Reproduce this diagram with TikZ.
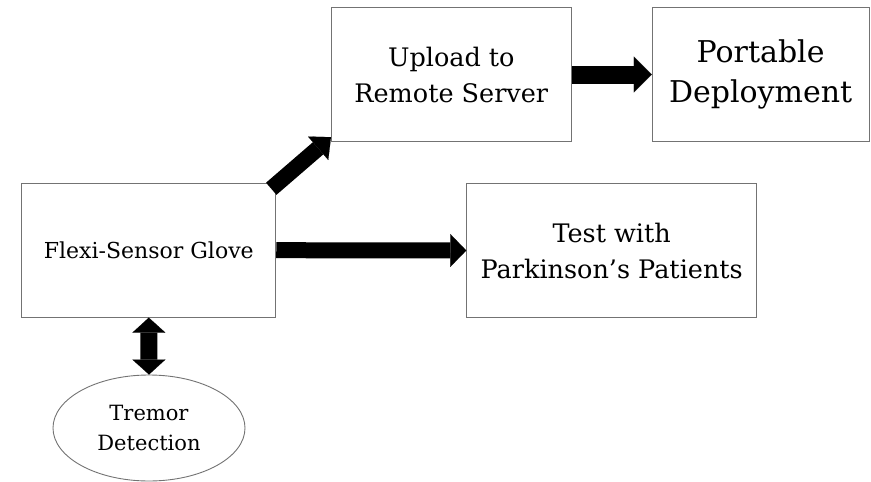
\documentclass[tikz,border=0pt]{standalone}
\usepackage{fontspec}
\setmainfont{DejaVu Serif}
\usetikzlibrary{shapes.geometric,arrows.meta,calc}
\tikzset{
  box/.style={draw=black!55, line width=0.9pt, rectangle, align=center, inner sep=0pt},
  oval/.style={draw=black!55, line width=0.9pt, ellipse, align=center, inner sep=0pt},
  smalltext/.style={font=\fontsize{22}{30}\selectfont},
  midtext/.style={font=\fontsize{25.5}{36}\selectfont},
  bigtext/.style={font=\fontsize{30}{40}\selectfont},
  fat/.style={line width=#1},
}
\begin{document}
\begin{tikzpicture}[x=1pt,y=-1pt]
\useasboundingbox (0,0) rectangle (871,482);
\node[box, smalltext, minimum width=254pt, minimum height=134pt] (glove) at (148.8,250.2) {Flexi-Sensor Glove};
\node[box, midtext, minimum width=240.7pt, minimum height=134.4pt] (upload) at (451.3,74.5) {Upload to\\Remote Server};
\node[box, bigtext, minimum width=216.7pt, minimum height=134.4pt] (portable) at (760.6,74.5) {Portable\\Deployment};
\node[box, midtext, minimum width=290pt, minimum height=134.4pt] (test) at (611.7,250.5) {Test with\\Parkinson’s Patients};
\node[oval, smalltext, font=\fontsize{21}{30}\selectfont, minimum width=192pt, minimum height=106pt] (tremor) at (149,428) {Tremor\\Detection};
% arrows
\draw[fat=16pt, -{Triangle[length=16pt,width=33pt,line width=0.1pt]}] (glove.east) -- (test.west);
\draw[fat=18pt, -{Triangle[length=18pt,width=36pt,line width=0.1pt]}] (upload.east) -- (portable.west);
\draw[fat=16pt, -{Triangle[length=17pt,width=31pt,line width=0.1pt]}] ($(glove.north east)+(-5,6)$) -- ($(upload.south west)+(0.5,-5)$);
\draw[fat=17pt, {Triangle[length=15pt,width=33pt,line width=0.1pt]}-{Triangle[length=15pt,width=33pt,line width=0.1pt]}] (glove.south) -- (tremor.north);
\end{tikzpicture}
\end{document}
